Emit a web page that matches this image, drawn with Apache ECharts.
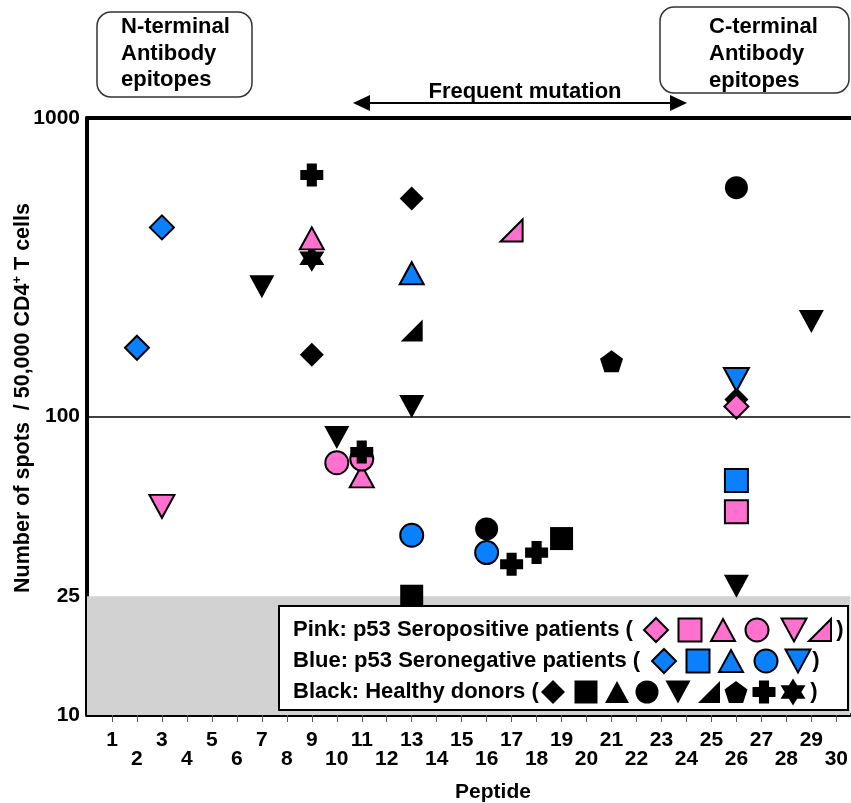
<!DOCTYPE html>
<html>
<head>
<meta charset="utf-8">
<script src="https://cdn.jsdelivr.net/npm/echarts@6/dist/echarts.min.js"></script>
<style>
html,body{margin:0;padding:0;background:#fff;}
#chart{width:851px;height:803px;}
</style>
</head>
<body>
<div id="chart"></div>
<script>
// ---------- DATA (peptide number, spots per 50,000 CD4+ T cells) ----------
const xTickValues = [1,2,3,4,5,6,7,8,9,10,11,12,13,14,15,16,17,18,19,20,21,22,23,24,25,26,27,28,29,30];
const yTickValues = [10, 25, 100, 1000];

const pinkDiamond       = [[26, 108]];
const pinkSquare        = [[26, 48]];
const pinkTriangle      = [[9, 395], [11, 63]];
const pinkCircle        = [[10, 70], [11, 72]];
const pinkInvTriangle   = [[3, 50]];
const pinkRightTriangle = [[17, 420]];

const blueDiamond       = [[2, 170], [3, 430]];
const blueSquare        = [[26, 61]];
const blueTriangle      = [[13, 302]];
const blueCircle        = [[13, 40], [16, 35]];
const blueInvTriangle   = [[26, 133]];

const blackDiamond       = [[9, 161], [13, 537], [26, 114]];
const blackSquare        = [[13, 25], [19, 39]];
const blackCircle        = [[16, 42], [26, 584]];
const blackInvTriangle   = [[7, 272], [10, 85], [13, 108], [26, 27], [29, 208]];
const blackRightTriangle = [[13, 194]];
const blackPentagon      = [[21, 153]];
const blackPlus          = [[9, 644], [11, 76], [17, 32], [18, 35]];
const blackStar          = [[9, 339]];

// ---------- STYLE ----------
const PINK = '#FF70CF';
const BLUE = '#0A80FF';
const BLACK = '#000000';
const FONT = '"Liberation Sans", Arial, Helvetica, sans-serif';

// normalized polygons in a unit box
function regular(n, rOuter, rInner) {
  const pts = [];
  const steps = rInner ? n * 2 : n;
  for (let i = 0; i < steps; i++) {
    const r = rInner ? (i % 2 ? rInner : rOuter) : rOuter;
    const a = -Math.PI / 2 + i * 2 * Math.PI / steps;
    pts.push([Math.cos(a) * r, Math.sin(a) * r]);
  }
  const xs = pts.map(p => p[0]), ys = pts.map(p => p[1]);
  const x0 = Math.min(...xs), x1 = Math.max(...xs), y0 = Math.min(...ys), y1 = Math.max(...ys);
  return pts.map(p => [(p[0] - x0) / (x1 - x0), (p[1] - y0) / (y1 - y0)]);
}
const POLY = {
  diamond: [[0.5, 0], [1, 0.5], [0.5, 1], [0, 0.5]],
  square: [[0, 0], [1, 0], [1, 1], [0, 1]],
  triangle: [[0.5, 0], [1, 1], [0, 1]],
  invTriangle: [[0, 0], [1, 0], [0.5, 1]],
  rightTriangle: [[1, 0], [1, 1], [0, 1]],
  pentagon: regular(5, 1),
  plus: [[0.28, 0], [0.72, 0], [0.72, 0.28], [1, 0.28], [1, 0.72], [0.72, 0.72], [0.72, 1], [0.28, 1], [0.28, 0.72], [0, 0.72], [0, 0.28], [0.28, 0.28]],
  star: regular(6, 1, 0.577)
};
const SIZES = {
  diamond: [24, 24], square: [23, 23], triangle: [24, 22], circle: [23, 23],
  invTriangle: [25, 23], rightTriangle: [22, 22], pentagon: [23, 22], plus: [23, 23], star: [25, 27]
};
function sym(shape) {
  if (shape === 'circle') return 'circle';
  const p = POLY[shape];
  return 'path://M' + p.map(q => q[0].toFixed(4) + ',' + q[1].toFixed(4)).join(' L') + ' Z';
}

const seriesDefs = [
  {data: blackDiamond, color: BLACK, shape: 'diamond', z: 2},
  {data: blackSquare, color: BLACK, shape: 'square', z: 2},
  {data: blackCircle, color: BLACK, shape: 'circle', z: 2},
  {data: blackInvTriangle, color: BLACK, shape: 'invTriangle', z: 2},
  {data: blackRightTriangle, color: BLACK, shape: 'rightTriangle', z: 2},
  {data: blackPentagon, color: BLACK, shape: 'pentagon', z: 2},
  {data: blackStar, color: BLACK, shape: 'star', z: 2},
  {data: pinkDiamond, color: PINK, shape: 'diamond', z: 3},
  {data: pinkSquare, color: PINK, shape: 'square', z: 3},
  {data: pinkTriangle, color: PINK, shape: 'triangle', z: 3},
  {data: pinkCircle, color: PINK, shape: 'circle', z: 3},
  {data: pinkInvTriangle, color: PINK, shape: 'invTriangle', z: 3},
  {data: pinkRightTriangle, color: PINK, shape: 'rightTriangle', z: 3},
  {data: blueDiamond, color: BLUE, shape: 'diamond', z: 3},
  {data: blueSquare, color: BLUE, shape: 'square', z: 3},
  {data: blueTriangle, color: BLUE, shape: 'triangle', z: 3},
  {data: blueCircle, color: BLUE, shape: 'circle', z: 3},
  {data: blueInvTriangle, color: BLUE, shape: 'invTriangle', z: 3},
  {data: blackPlus, color: BLACK, shape: 'plus', z: 4}
];

const series = seriesDefs.map(d => ({
  type: 'scatter',
  data: d.data,
  symbol: sym(d.shape),
  symbolSize: SIZES[d.shape],
  z: d.z,
  silent: true,
  itemStyle: {
    color: d.color, opacity: 1,
    borderColor: '#000', borderWidth: d.color === BLACK ? 0 : 2
  }
}));
// gray band below 25 and reference line at 100
series[0].markArea = {
  silent: true,
  itemStyle: {color: '#D2D2D2'},
  data: [[{yAxis: 10}, {yAxis: 25}]]
};
series[0].markLine = {
  silent: true, symbol: ['none', 'none'],
  label: {show: false},
  lineStyle: {color: '#000', width: 1.5, type: 'solid'},
  data: [{yAxis: 100}]
};

// ---------- GRAPHIC DECORATIONS ----------
function legendSym(shape, cx, cy, color) {
  const [w, h] = SIZES[shape];
  const style = {fill: color, stroke: '#000', lineWidth: color === BLACK ? 0 : 2};
  if (shape === 'circle') {
    return {type: 'circle', shape: {cx: cx, cy: cy, r: w / 2}, style: style, z: 101};
  }
  const pts = POLY[shape].map(p => [cx - w / 2 + p[0] * w, cy - h / 2 + p[1] * h]);
  return {type: 'polygon', shape: {points: pts}, style: style, z: 101};
}
const txt = (text, x, y, size, align, vAlign) => ({
  type: 'text', x: x, y: y, z: 101,
  style: {text: text, fill: '#000', font: 'bold ' + size + 'px ' + FONT, align: align || 'left', verticalAlign: vAlign || 'middle'}
});

const legendRows = [
  {label: 'Pink: p53 Seropositive patients (', y: 630, color: PINK,
   shapes: ['diamond', 'square', 'triangle', 'circle', 'invTriangle', 'rightTriangle'],
   xs: [656, 690, 723, 757, 794, 820], close: 840},
  {label: 'Blue: p53 Seronegative patients (', y: 661, color: BLUE,
   shapes: ['diamond', 'square', 'triangle', 'circle', 'invTriangle'],
   xs: [664, 698, 731, 766, 798], close: 816},
  {label: 'Black: Healthy donors (', y: 692, color: BLACK,
   shapes: ['diamond', 'square', 'triangle', 'circle', 'invTriangle', 'rightTriangle', 'pentagon', 'plus', 'star'],
   xs: [553, 586, 617, 647, 678, 709, 736, 764, 793], close: 814}
];

const graphics = [
  {type: 'rect', shape: {x: 279, y: 606, width: 569, height: 104}, style: {fill: '#fff', stroke: '#000', lineWidth: 2}, z: 100},
  {type: 'rect', shape: {x: 97, y: 12, width: 155, height: 85, r: 14}, style: {fill: '#fff', stroke: '#333', lineWidth: 1.5}, z: 100},
  {type: 'text', x: 121, y: 14, z: 101, style: {text: 'N-terminal\nAntibody\nepitopes', fill: '#000', font: 'bold 22px ' + FONT, lineHeight: 26.5, align: 'left', verticalAlign: 'top'}},
  {type: 'rect', shape: {x: 660, y: 7, width: 189, height: 86, r: 14}, style: {fill: '#fff', stroke: '#333', lineWidth: 1.5}, z: 100},
  {type: 'text', x: 709, y: 13.5, z: 101, style: {text: 'C-terminal\nAntibody\nepitopes', fill: '#000', font: 'bold 22px ' + FONT, lineHeight: 27, align: 'left', verticalAlign: 'top'}},
  txt('Frequent mutation', 525, 92, 22, 'center', 'middle'),
  {type: 'line', shape: {x1: 362, y1: 103, x2: 678, y2: 103}, style: {stroke: '#000', lineWidth: 2}, z: 101},
  {type: 'polygon', shape: {points: [[353, 103], [370, 95], [370, 111]]}, style: {fill: '#000'}, z: 101},
  {type: 'polygon', shape: {points: [[687, 103], [670, 95], [670, 111]]}, style: {fill: '#000'}, z: 101},
  txt('Peptide', 493, 792, 21, 'center', 'middle'),
  {type: 'text', x: 23, y: 398, rotation: Math.PI / 2, z: 101,
   style: {text: 'Number of spots  / 50,000 CD4{sup|+} T cells', fill: '#000', font: 'bold 21.5px ' + FONT,
           align: 'center', verticalAlign: 'middle',
           rich: {sup: {font: 'bold 13px ' + FONT, fill: '#000', verticalAlign: 'top', lineHeight: 24}}}}
];
legendRows.forEach(r => {
  graphics.push(txt(r.label, 293, r.y, 22, 'left', 'middle'));
  r.shapes.forEach((s, i) => graphics.push(legendSym(s, r.xs[i], r.y, r.color)));
  graphics.push(txt(')', r.close, r.y, 22, 'center', 'middle'));
});

// ---------- CHART ----------
const chart = echarts.init(document.getElementById('chart'), null, {renderer: 'canvas'});
chart.setOption({
  animation: false,
  backgroundColor: '#fff',
  grid: {left: 87, right: 0, top: 118, bottom: 88, containLabel: false},
  xAxis: [{
    type: 'value', min: 0, max: 30.56, position: 'bottom',
    axisLine: {show: true, onZero: false, lineStyle: {color: '#000', width: 4}},
    axisTick: {show: true, customValues: xTickValues, length: 7, lineStyle: {color: '#555', width: 1}},
    axisLabel: {customValues: xTickValues, margin: 16, color: '#000', fontSize: 21, fontWeight: 'bold', fontFamily: FONT, lineHeight: 19,
      formatter: v => (v % 2 === 0 ? '\n' + v : String(v))},
    splitLine: {show: false}
  }, {
    type: 'value', min: 0, max: 30.56, position: 'top',
    axisLine: {show: true, onZero: false, lineStyle: {color: '#000', width: 4}},
    axisTick: {show: false}, axisLabel: {show: false}, splitLine: {show: false}
  }],
  yAxis: {
    type: 'log', logBase: 10, min: 10, max: 1000,
    axisLine: {show: true, onZero: false, lineStyle: {color: '#000', width: 4}},
    axisTick: {show: false},
    axisLabel: {customValues: yTickValues, margin: 7, color: '#000', fontSize: 21, fontWeight: 'bold', fontFamily: FONT,
      formatter: v => String(Math.round(v))},
    splitLine: {show: false}, minorSplitLine: {show: false}
  },
  graphic: graphics,
  series: series
});
</script>
</body>
</html>
